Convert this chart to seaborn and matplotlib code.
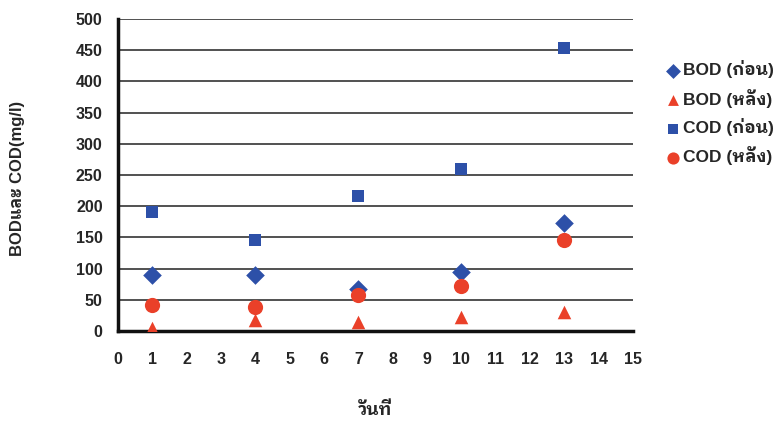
import numpy as np
import pandas as pd
import matplotlib
matplotlib.use("Agg")
import matplotlib.pyplot as plt
import seaborn as sns

# ข้อมูลอ่านจากกราฟ
days = [1, 4, 7, 10, 13]
bod_before = [89, 89, 68, 95, 173]
bod_after = [5, 18, 15, 22, 31]
cod_before = [191, 146, 217, 259, 454]
cod_after = [41, 38, 57, 72, 146]
series_names = ['BOD (ก่อน)', 'BOD (หลัง)', 'COD (ก่อน)', 'COD (หลัง)']

sns.set_style('white')
fams = ['Liberation Sans', 'IBM Plex Sans Thai Looped']
plt.rcParams['font.family'] = fams
plt.rcParams['font.weight'] = 'bold'

df = pd.DataFrame({
    'day': days * 4,
    'value': bod_before + bod_after + cod_before + cod_after,
    'series': np.repeat(series_names, len(days)),
})

blue = '#2D50A8'
red = '#EA4029'
palette = dict(zip(series_names, [blue, red, blue, red]))
markers = dict(zip(series_names, ['D', '^', 's', 'o']))
sizes = {'BOD (ก่อน)': 90, 'BOD (หลัง)': 95, 'COD (ก่อน)': 80, 'COD (หลัง)': 120}

fig = plt.figure(figsize=(7.83, 4.25), dpi=100)
ax = fig.add_axes([0.1507, 0.2212, 0.6577, 0.7341])

for name in series_names:
    sub = df[df.series == name]
    sns.scatterplot(data=sub, x='day', y='value', ax=ax, color=palette[name],
                    marker=markers[name], s=sizes[name], linewidth=0,
                    label=name, zorder=3)

ax.set_xlim(0, 15)
ax.set_ylim(0, 500)
ax.set_xticks(range(0, 16))
ax.set_yticks(range(0, 501, 50))
ax.yaxis.grid(True, color='#333333', linewidth=1.2)
ax.set_axisbelow(True)
for side in ['top', 'right']:
    ax.spines[side].set_visible(False)
for side in ['left', 'bottom']:
    ax.spines[side].set_linewidth(2.5)
    ax.spines[side].set_color('#111111')
ax.tick_params(axis='x', direction='out', length=3, width=2,
               color='#111111', labelsize=11.5, pad=12)
ax.tick_params(axis='y', direction='out', length=5, width=2,
               color='#111111', labelsize=11.5, pad=6)
for lab in ax.get_xticklabels() + ax.get_yticklabels():
    lab.set_fontweight('bold')

ax.set_xlabel('')
ax.set_ylabel('')
fig.text(375 / 783, 1 - 410 / 425, 'วันที่', fontsize=12.5, fontweight='bold',
         ha='center', va='center', family=fams)
fig.text(18 / 783, 1 - 178 / 425, 'BODและ COD(mg/l)', fontsize=12,
         fontweight='bold', rotation=90, ha='center', va='center', family=fams)

leg = ax.legend(loc='upper left', bbox_to_anchor=(1.05, 0.89), frameon=False,
                fontsize=12.5, handletextpad=0.1, labelspacing=0.6,
                handlelength=0.9, borderaxespad=0, markerscale=0.8)
for t in leg.get_texts():
    t.set_fontweight('bold')

fig.savefig('out.png', dpi=100)
